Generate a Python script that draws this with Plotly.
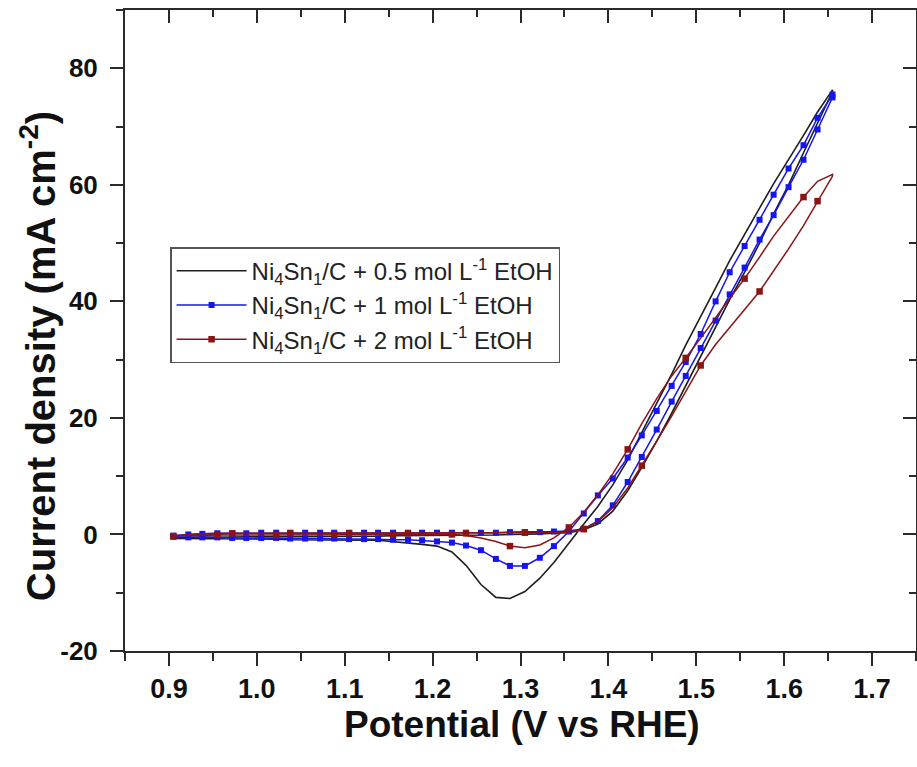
import plotly.graph_objects as go

# Potential grid (V vs RHE), forward scan; reverse scan uses the same points backwards
E_FWD = [0.905, 0.922, 0.938, 0.955, 0.972, 0.988, 1.005, 1.022, 1.038, 1.055,
         1.072, 1.088, 1.105, 1.122, 1.138, 1.155, 1.172, 1.188, 1.205, 1.222,
         1.238, 1.255, 1.272, 1.288, 1.305, 1.322, 1.338, 1.355, 1.372, 1.388,
         1.405, 1.422, 1.438, 1.455, 1.472, 1.488, 1.505, 1.522, 1.538, 1.555,
         1.572, 1.588, 1.605, 1.622, 1.638, 1.655]
E_REV = E_FWD[::-1]

# 0.5 mol/L EtOH (black)
J05_FWD = [-0.6, -0.5, -0.5, -0.5, -0.4, -0.4, -0.4, -0.4, -0.4, -0.3,
           -0.3, -0.3, -0.3, -0.3, -0.3, -0.2, -0.2, -0.2, -0.2, -0.2,
           -0.1, -0.1, -0.1, 0.0, 0.0, 0.1, 0.2, 0.3, 0.8, 1.8,
           4.0, 7.5, 11.5, 16.0, 20.8, 25.5, 30.5, 35.5, 40.3, 45.0,
           50.0, 55.0, 60.0, 65.5, 70.5, 76.0]
J05_REV = [76.3, 72.5, 68.5, 64.3, 60.2, 56.0, 51.5, 47.0, 42.3, 37.5,
           32.5, 27.5, 22.5, 17.5, 12.8, 8.5, 4.8, 1.8, -1.5, -4.8,
           -7.5, -9.8, -11.0, -10.8, -8.6, -5.3, -3.0, -2.0, -1.7, -1.5,
           -1.3, -1.0, -1.0, -1.0, -1.0, -0.9, -0.9, -0.9, -0.8, -0.8,
           -0.8, -0.8, -0.7, -0.7, -0.7, -0.7]

# 1 mol/L EtOH (blue)
J1_FWD = [-0.2, 0.0, 0.1, 0.2, 0.2, 0.2, 0.3, 0.3, 0.3, 0.3,
          0.3, 0.3, 0.3, 0.3, 0.3, 0.3, 0.3, 0.3, 0.3, 0.3,
          0.3, 0.3, 0.3, 0.4, 0.4, 0.4, 0.5, 0.6, 1.0, 2.3,
          5.0, 9.0, 13.3, 18.0, 22.8, 27.2, 32.0, 36.7, 41.2, 45.8,
          50.6, 54.8, 59.6, 64.3, 69.5, 75.0]
J1_REV = [75.5, 71.5, 66.8, 62.8, 58.3, 54.0, 49.5, 45.0, 40.0, 34.4,
          29.6, 25.5, 21.2, 17.0, 13.2, 9.6, 6.7, 3.6, 0.5, -2.0,
          -4.0, -5.4, -5.4, -4.2, -2.7, -1.9, -1.4, -1.2, -1.0, -0.9,
          -0.9, -0.8, -0.8, -0.8, -0.7, -0.7, -0.7, -0.7, -0.6, -0.6,
          -0.6, -0.6, -0.5, -0.5, -0.5, -0.4]

# 2 mol/L EtOH (dark red)
J2_FWD = [-0.3, 0.0, 0.1, 0.2, 0.2, 0.2, 0.2, 0.2, 0.2, 0.2,
          0.2, 0.2, 0.2, 0.2, 0.2, 0.2, 0.2, 0.2, 0.2, 0.2,
          0.2, 0.2, 0.3, 0.3, 0.3, 0.3, 0.3, 0.4, 0.9, 2.2,
          4.6, 8.0, 11.8, 16.0, 20.3, 24.6, 29.0, 32.6, 35.6, 38.6,
          41.7, 45.2, 49.0, 53.0, 57.2, 61.5]
J2_REV = [61.8, 60.6, 57.9, 54.6, 51.2, 47.6, 43.9, 40.5, 37.1, 33.7,
          30.3, 27.2, 23.3, 19.0, 14.6, 10.4, 6.8, 3.8, 1.2, -0.6,
          -1.8, -2.3, -2.0, -1.2, -0.6, -0.2, 0.0, 0.0, 0.0, 0.0,
          0.0, 0.0, 0.0, 0.0, 0.0, -0.1, -0.1, -0.1, -0.1, -0.1,
          -0.1, -0.1, -0.1, -0.2, -0.2, -0.2]

LABELS = ["Ni<sub>4</sub>Sn<sub>1</sub>/C + 0.5 mol L<sup>-1</sup> EtOH",
          "Ni<sub>4</sub>Sn<sub>1</sub>/C + 1 mol L<sup>-1</sup> EtOH",
          "Ni<sub>4</sub>Sn<sub>1</sub>/C + 2 mol L<sup>-1</sup> EtOH"]
X_TITLE = "<b>Potential (V vs RHE)</b>"
Y_TITLE = "<b>Current density (mA cm<sup>-2</sup>)</b>"
X_TICKS = [0.9, 1.0, 1.1, 1.2, 1.3, 1.4, 1.5, 1.6, 1.7]
X_TICK_TEXT = ["0.9", "1.0", "1.1", "1.2", "1.3", "1.4", "1.5", "1.6", "1.7"]
Y_TICKS = [-20, 0, 20, 40, 60, 80]
Y_TICK_TEXT = ["-20", "0", "20", "40", "60", "80"]
RED_MARKER_STEP = 4

BLACK = "#1e1e1e"
BLUE = "#1414f5"
RED = "#8a1414"
FONT = "Liberation Sans, Arial, sans-serif"

E_LOOP = E_FWD + E_REV
J05 = J05_FWD + J05_REV
J1 = J1_FWD + J1_REV
J2 = J2_FWD + J2_REV

fig = go.Figure()

# black: line only
fig.add_trace(go.Scatter(x=E_LOOP, y=J05, mode="lines", name=LABELS[0],
                         line=dict(color=BLACK, width=1.6), legendgroup="a"))
# blue: line + square markers on every point
fig.add_trace(go.Scatter(x=E_LOOP, y=J1, mode="lines+markers", name=LABELS[1],
                         line=dict(color=BLUE, width=1.5),
                         marker=dict(symbol="square", size=6, color=BLUE),
                         legendgroup="b"))
# red: smooth line + sparse square markers
fig.add_trace(go.Scatter(x=E_LOOP, y=J2, mode="lines", showlegend=False,
                         line=dict(color=RED, width=1.5), legendgroup="c"))
fig.add_trace(go.Scatter(x=E_LOOP[::RED_MARKER_STEP], y=J2[::RED_MARKER_STEP],
                         mode="markers", showlegend=False,
                         marker=dict(symbol="square", size=6.5, color=RED),
                         legendgroup="c"))
fig.add_trace(go.Scatter(x=[None], y=[None], mode="lines+markers", name=LABELS[2],
                         line=dict(color=RED, width=1.5),
                         marker=dict(symbol="square", size=6.5, color=RED),
                         legendgroup="c"))
# helper for the mirrored inside ticks (top / right)
fig.add_trace(go.Scatter(x=[None], y=[None], xaxis="x2", yaxis="y2",
                         showlegend=False, hoverinfo="skip"))

AX = "#2a2a2a"
fig.update_layout(
    width=917, height=767,
    margin=dict(l=125, r=1, t=10, b=116),
    paper_bgcolor="white", plot_bgcolor="white",
    font=dict(family=FONT, color="#111"),
    showlegend=True,
    xaxis=dict(range=[0.85, 1.75], tickvals=X_TICKS, ticktext=X_TICK_TEXT,
               ticks="outside", ticklen=13, tickwidth=2, tickcolor=AX,
               showline=True, linewidth=2, linecolor=AX, mirror=True,
               showgrid=False, zeroline=False, automargin=False,
               tickfont=dict(size=27, family=FONT, weight="bold", color="#111"),
               minor=dict(ticks="outside", ticklen=8, tickwidth=2, tickcolor=AX,
                          dtick=0.05, tick0=0.9, showgrid=False)),
    yaxis=dict(range=[-20, 90], tickvals=Y_TICKS, ticktext=Y_TICK_TEXT,
               ticks="outside", ticklen=13, tickwidth=2, tickcolor=AX,
               showline=True, linewidth=2, linecolor=AX, mirror=True,
               showgrid=False, zeroline=False, automargin=False,
               ticklabelstandoff=7,
               tickfont=dict(size=26, family=FONT, weight="bold", color="#111"),
               minor=dict(ticks="outside", ticklen=7, tickwidth=2, tickcolor=AX,
                          dtick=10, tick0=0, showgrid=False)),
    xaxis2=dict(overlaying="x", side="top", range=[0.85, 1.75], tickvals=X_TICKS,
                ticks="inside", ticklen=13, tickwidth=2, tickcolor=AX,
                showticklabels=False, showline=False, showgrid=False, zeroline=False,
                automargin=False,
                minor=dict(ticks="inside", ticklen=7, tickwidth=2, tickcolor=AX,
                           dtick=0.05, tick0=0.9, showgrid=False)),
    yaxis2=dict(overlaying="y", side="right", range=[-20, 90], tickvals=Y_TICKS,
                ticks="inside", ticklen=13, tickwidth=2, tickcolor=AX,
                showticklabels=False, showline=False, showgrid=False, zeroline=False,
                automargin=False,
                minor=dict(ticks="inside", ticklen=7, tickwidth=2, tickcolor=AX,
                           dtick=10, tick0=0, showgrid=False)),
    legend=dict(x=0.057, y=0.63, xanchor="left", yanchor="top",
                bgcolor="white", bordercolor="#555", borderwidth=1.5,
                font=dict(size=24, family=FONT, color="#222"),
                itemwidth=70, tracegroupgap=6, traceorder="normal"),
    annotations=[
        dict(text=X_TITLE, xref="paper", yref="paper", x=0.502, y=-0.115,
             xanchor="center", yanchor="middle", showarrow=False,
             font=dict(size=37, family=FONT, color="#111")),
        dict(text=Y_TITLE, xref="paper", yref="paper", x=-0.11, y=0.46,
             xanchor="center", yanchor="middle", showarrow=False, textangle=-90,
             font=dict(size=40, family=FONT, color="#111")),
    ],
)

fig.write_html("out.html", config={"displayModeBar": False},
               post_script="document.body.style.margin='0px';document.body.style.overflow='hidden';")
